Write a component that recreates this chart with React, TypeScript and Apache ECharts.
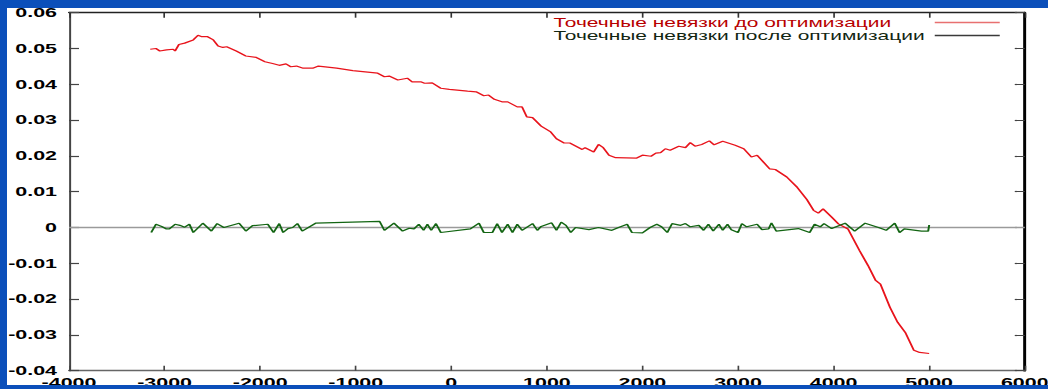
import React, { useEffect, useRef } from "react";
import * as echarts from "echarts";

const S = 1.65; // horizontal stretch of the original picture
const BLUE = "#0b4fba";

const xTicks = { min: -4000, max: 6000, interval: 1000 };
const yTicks = { min: -0.04, max: 0.06, interval: 0.01 };

const seriesNames = [
  "Точечные невязки до оптимизации",
  "Точечные невязки после оптимизации",
];

const redPoints: [number, number][] = [
  [-3150, 0.0498], [-3090, 0.05], [-3050, 0.0493], [-2980, 0.0496], [-2910, 0.0498],
  [-2890, 0.0493], [-2850, 0.0511], [-2790, 0.0515], [-2700, 0.0524], [-2650, 0.0537],
  [-2610, 0.0533], [-2550, 0.0533], [-2490, 0.0524], [-2440, 0.0507], [-2390, 0.0503],
  [-2350, 0.0505], [-2250, 0.0493], [-2150, 0.0479], [-2040, 0.0475], [-1950, 0.0463],
  [-1870, 0.0458], [-1800, 0.0453], [-1730, 0.0457], [-1680, 0.0449], [-1620, 0.0451],
  [-1550, 0.0445], [-1450, 0.0445], [-1390, 0.0451], [-1200, 0.0445], [-1030, 0.0438],
  [-770, 0.0431], [-700, 0.0421], [-650, 0.0423], [-560, 0.0412], [-460, 0.0417],
  [-410, 0.0407], [-320, 0.0407], [-280, 0.0403], [-200, 0.0404], [-110, 0.0389],
  [-20, 0.0386], [170, 0.0381], [260, 0.0379], [340, 0.0368], [390, 0.037],
  [450, 0.0358], [530, 0.0351], [590, 0.0351], [690, 0.0337], [740, 0.0337],
  [790, 0.0309], [850, 0.0307], [940, 0.0283], [1040, 0.0267], [1100, 0.0248],
  [1180, 0.0236], [1240, 0.0236], [1370, 0.0218], [1400, 0.0223], [1490, 0.0211],
  [1540, 0.0232], [1590, 0.0223], [1650, 0.0202], [1720, 0.0195], [1940, 0.0194],
  [2000, 0.0202], [2090, 0.0199], [2140, 0.0208], [2190, 0.0209], [2240, 0.022],
  [2290, 0.0216], [2380, 0.0227], [2450, 0.0223], [2500, 0.0237], [2550, 0.0227],
  [2620, 0.0232], [2700, 0.0242], [2750, 0.0231], [2840, 0.0241], [2970, 0.023],
  [3060, 0.022], [3140, 0.0197], [3200, 0.0202], [3330, 0.0164], [3390, 0.0162],
  [3510, 0.0141], [3620, 0.0112], [3720, 0.0078], [3790, 0.0048], [3840, 0.004],
  [3890, 0.0052], [3980, 0.0029], [4050, 0.001], [4150, -0.0004], [4270, -0.0064],
  [4360, -0.0106], [4440, -0.0148], [4490, -0.0158], [4590, -0.0223], [4670, -0.0265],
  [4750, -0.0293], [4840, -0.0343], [4900, -0.0349], [5000, -0.0352],
];

const greenPoints: [number, number][] = [
  [-3140, -0.0014], [-3090, 0.0009], [-3030, 0.0003], [-2980, -0.0004], [-2950, -0.0004],
  [-2890, 0.0009], [-2840, 0.0006], [-2790, 0.0001], [-2740, 0.0009], [-2700, -0.0014],
  [-2600, 0.0012], [-2510, -0.001], [-2450, 0.0011], [-2380, 0], [-2220, 0.0012],
  [-2150, -0.001], [-2080, 0.0005], [-1920, 0.0009], [-1860, -0.0014], [-1800, 0.0011],
  [-1760, -0.0014], [-1710, -0.0003], [-1660, 0], [-1610, 0.0011], [-1560, -0.001],
  [-1420, 0.0012], [-750, 0.0017], [-700, -0.0008], [-600, 0.0012], [-510, -0.001],
  [-440, -0.0002], [-390, -0.0004], [-340, 0.0009], [-290, -0.0008], [-250, 0.0009],
  [-210, -0.0008], [-160, 0.0011], [-110, -0.0014], [200, -0.0004], [290, 0.0012],
  [340, -0.0014], [430, -0.0014], [480, 0.0011], [530, -0.0014], [590, 0.0009],
  [640, -0.0014], [690, 0.0009], [740, -0.0008], [850, 0.0011], [900, -0.0008],
  [940, 0.0003], [1050, 0.0013], [1100, -0.0008], [1150, 0.0015], [1200, 0.0006],
  [1250, -0.0014], [1300, 0], [1440, -0.0006], [1540, 0], [1680, -0.0008],
  [1750, 0], [1840, 0.0009], [1890, -0.0014], [2000, -0.0015], [2080, 0],
  [2150, 0.0009], [2200, 0.0002], [2260, -0.0014], [2310, 0.0011], [2400, 0.0006],
  [2450, 0.0011], [2500, 0.0002], [2590, 0.0006], [2640, -0.0008], [2690, 0.0009],
  [2740, -0.001], [2800, 0.0009], [2840, -0.0008], [2890, 0.0009], [2930, -0.0006],
  [3000, -0.0014], [3040, 0.0011], [3090, 0.0002], [3200, 0.0009], [3250, -0.0006],
  [3320, -0.0004], [3350, 0.0013], [3400, -0.001], [3630, -0.0003], [3750, -0.0014],
  [3800, 0.0009], [3860, 0.0002], [3900, 0.0011], [3980, -0.0003], [4120, 0.0012],
  [4220, -0.001], [4330, 0.0012], [4470, 0], [4550, -0.0008], [4640, 0.0012],
  [4690, -0.0014], [4740, -0.0004], [4920, -0.001], [4990, -0.001], [5000, 0.0007],
];

const W = 1048;
const H = 389;
const CW = W / S;

export default function App() {
  const ref = useRef<HTMLDivElement>(null);

  useEffect(() => {
    if (!ref.current) return;
    const chart = echarts.init(ref.current, null, { renderer: "svg" });
    const labelFont = {
      fontFamily: "'Liberation Sans', Arial, sans-serif",
      fontWeight: "bold" as const,
      fontSize: 13,
      color: "#000",
    };
    const legendFont = "'Liberation Sans', Arial, sans-serif";
    chart.setOption({
      animation: false,
      grid: {
        left: 69 / S,
        right: 23 / S,
        top: 12.7,
        bottom: H - 370.7,
        containLabel: false,
        outerBoundsMode: "none",
      },
      legend: {
        orient: "vertical",
        right: (W - 1000) / S,
        top: 16,
        padding: 0,
        align: "right",
        icon: "rect",
        itemWidth: 65 / S,
        itemHeight: 1.3,
        itemGap: 0,
        formatter: (name: string) =>
          name === seriesNames[0] ? `{a|${name}}` : `{b|${name}}`,
        textStyle: {
          fontFamily: legendFont,
          fontSize: 12.7,
          lineHeight: 12,
          rich: {
            a: { width: 226, align: "left", color: "#b80000", fontFamily: legendFont, fontSize: 12.7, lineHeight: 12 },
            b: { width: 226, align: "left", color: "#122612", fontFamily: legendFont, fontSize: 12.7, lineHeight: 12 },
          },
        },
        data: [
          { name: seriesNames[0], itemStyle: { color: "#e87070" } },
          { name: seriesNames[1], itemStyle: { color: "#3a3a3a" } },
        ],
      },
      xAxis: [
        {
          type: "value",
          position: "bottom",
          ...xTicks,
          axisLine: { show: true, onZero: false, lineStyle: { color: "#666", width: 1.3 } },
          axisTick: { show: true, inside: true, length: 5, lineStyle: { color: "#444", width: 1 } },
          axisLabel: { ...labelFont, margin: 5, formatter: (v: number) => String(v) },
          splitLine: { show: false },
        },
        {
          type: "value",
          position: "top",
          ...xTicks,
          axisLine: { show: true, onZero: false, lineStyle: { color: "#222", width: 1.3 } },
          axisTick: { show: true, inside: true, length: 5, lineStyle: { color: "#333", width: 1 } },
          axisLabel: { show: false },
          splitLine: { show: false },
        },
      ],
      yAxis: [
        {
          type: "value",
          position: "left",
          ...yTicks,
          axisLine: { show: true, onZero: false, lineStyle: { color: "#444", width: 1.2 } },
          axisTick: { show: true, inside: true, length: 10 / S, lineStyle: { color: "#444", width: 1.2 } },
          axisLabel: {
            ...labelFont,
            margin: 12 / S,
            formatter: (v: number) => (Math.abs(v) < 1e-9 ? "0" : v.toFixed(2)),
          },
          splitLine: { show: false },
        },
        {
          type: "value",
          position: "right",
          ...yTicks,
          axisLine: { show: true, onZero: false, lineStyle: { color: "#000", width: 1.8 } },
          axisTick: { show: true, inside: true, length: 10 / S, lineStyle: { color: "#444", width: 1.2 } },
          axisLabel: { show: false },
          splitLine: { show: false },
        },
      ],
      series: [
        {
          name: seriesNames[0],
          type: "line",
          xAxisIndex: 0,
          yAxisIndex: 0,
          data: redPoints,
          symbol: "none",
          lineStyle: { color: "#e8141c", width: 1.2 },
          itemStyle: { color: "#e8141c" },
          z: 3,
          markLine: {
            silent: true,
            symbol: "none",
            label: { show: false },
            lineStyle: { color: "#9a9a9a", width: 1.4, type: "solid" },
            data: [{ yAxis: 0 }],
            z: 1,
          },
        },
        {
          name: seriesNames[1],
          type: "line",
          xAxisIndex: 0,
          yAxisIndex: 0,
          data: greenPoints,
          symbol: "none",
          lineStyle: { color: "#136513", width: 1.2 },
          itemStyle: { color: "#136513" },
          z: 4,
        },
      ],
    });
    return () => chart.dispose();
  }, []);

  return (
    <div
      style={{
        position: "fixed",
        left: 0,
        top: 0,
        width: W,
        height: H,
        background: BLUE,
        overflow: "hidden",
      }}
    >
      <div style={{ position: "absolute", left: 7, top: 8, width: W - 7, height: 377, background: "#fff" }} />
      <div
        ref={ref}
        style={{
          position: "absolute",
          left: 0,
          top: 0,
          width: CW,
          height: H,
          transform: `scaleX(${S})`,
          transformOrigin: "0 0",
        }}
      />
      <div style={{ position: "absolute", left: 0, top: 0, width: W, height: 8, background: BLUE }} />
      <div style={{ position: "absolute", left: 0, top: 0, width: 7, height: H, background: BLUE }} />
      <div style={{ position: "absolute", left: 0, top: 385, width: W, height: 4, background: BLUE }} />
    </div>
  );
}
